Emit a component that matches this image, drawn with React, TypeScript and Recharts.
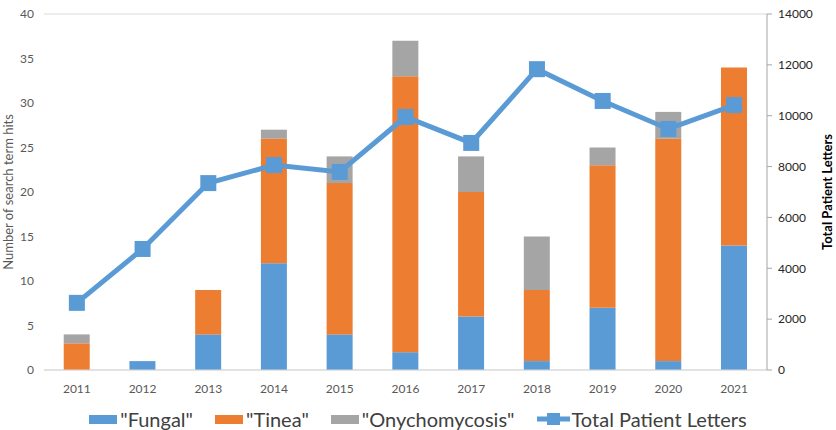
import { ComposedChart, Bar, Line, XAxis, YAxis, CartesianGrid, Legend } from 'recharts';

const years = ['2011', '2012', '2013', '2014', '2015', '2016', '2017', '2018', '2019', '2020', '2021'];
const fungal = [0, 1, 4, 12, 4, 2, 6, 1, 7, 1, 14];
const tinea = [3, 0, 5, 14, 17, 31, 14, 8, 16, 25, 20];
const onychomycosis = [1, 0, 0, 1, 3, 4, 4, 6, 2, 3, 0];
const patientLetters = [2640, 4760, 7350, 8060, 7790, 9950, 8930, 11830, 10580, 9480, 10420];
const leftTicks = [0, 5, 10, 15, 20, 25, 30, 35, 40];
const rightTicks = [0, 2000, 4000, 6000, 8000, 10000, 12000, 14000];

const data = years.map((year, i) => ({
  year,
  fungal: fungal[i],
  tinea: tinea[i],
  onychomycosis: onychomycosis[i],
  letters: patientLetters[i],
}));

const BLUE = '#5B9BD5';
const ORANGE = '#ED7D31';
const GREY = '#A5A5A5';
const FONT = 'Lato, "Open Sans", sans-serif';

const SquareDot = (props: any) => {
  const { cx, cy } = props;
  if (cx == null || cy == null) return null;
  return <rect x={cx - 8} y={cy - 8} width={16} height={16} fill={BLUE} />;
};

const legendItems = [
  { label: '"Fungal"', color: BLUE, kind: 'bar' },
  { label: '"Tinea"', color: ORANGE, kind: 'bar' },
  { label: '"Onychomycosis"', color: GREY, kind: 'bar' },
  { label: 'Total Patient Letters', color: BLUE, kind: 'line' },
];

const LegendContent = () => (
  <div style={{ display: 'flex', justifyContent: 'center', alignItems: 'center', fontFamily: FONT, fontSize: 20, color: '#404040', paddingTop: 7 }}>
    {legendItems.map((it, i) => (
      <div key={it.label} style={{ display: 'flex', alignItems: 'center', marginRight: i < legendItems.length - 1 ? 22 : 0 }}>
        {it.kind === 'bar' ? (
          <div style={{ width: 28, height: 9, background: it.color, marginRight: 3 }} />
        ) : (
          <svg width={33} height={14} style={{ marginRight: 2 }}>
            <line x1={0} y1={7} x2={33} y2={7} stroke={it.color} strokeWidth={5} />
            <rect x={10} y={1} width={13} height={12} fill={it.color} />
          </svg>
        )}
        <span>{it.label}</span>
      </div>
    ))}
  </div>
);

export default function App() {
  return (
    <div style={{ position: 'absolute', left: 0, top: 0, background: '#fff' }}>
      <ComposedChart
        width={836}
        height={430}
        data={data}
        margin={{ top: 14, right: 0, left: 0, bottom: 0 }}
        barCategoryGap="30%"
      >
        <CartesianGrid vertical={false} stroke="#D9D9D9" />
        <XAxis
          dataKey="year"
          height={30}
          tickLine={false}
          axisLine={{ stroke: '#D9D9D9' }}
          tick={{ fill: '#595959', fontSize: 12, fontFamily: FONT }}
          tickMargin={8}
        />
        <YAxis
          yAxisId="left"
          width={44}
          domain={[0, 40]}
          ticks={leftTicks}
          axisLine={false}
          tickLine={false}
          tick={{ fill: '#595959', fontSize: 12, fontFamily: FONT }}
          tickMargin={4}
          label={{
            value: 'Number of search term hits',
            angle: -90,
            position: 'insideLeft',
            offset: 0,
            dx: 8,
            style: { fill: '#595959', fontSize: 13, fontFamily: FONT, textAnchor: 'middle' },
          }}
        />
        <YAxis
          yAxisId="right"
          orientation="right"
          width={69}
          domain={[0, 14000]}
          ticks={rightTicks}
          axisLine={{ stroke: '#A6A6A6' }}
          tickLine={{ stroke: '#A6A6A6' }}
          tickSize={5}
          tick={{ fill: '#262626', fontSize: 12, fontFamily: FONT }}
          tickMargin={6}
          label={{
            value: 'Total Patient Letters',
            angle: -90,
            position: 'insideRight',
            offset: 0,
            dx: -9,
            style: { fill: '#000', fontSize: 13, fontWeight: 'bold', fontFamily: FONT, textAnchor: 'middle' },
          }}
        />
        <Legend verticalAlign="bottom" height={30} content={LegendContent} />
        <Bar yAxisId="left" dataKey="fungal" stackId="a" fill={BLUE} isAnimationActive={false} />
        <Bar yAxisId="left" dataKey="tinea" stackId="a" fill={ORANGE} isAnimationActive={false} />
        <Bar yAxisId="left" dataKey="onychomycosis" stackId="a" fill={GREY} isAnimationActive={false} />
        <Line
          yAxisId="right"
          dataKey="letters"
          stroke={BLUE}
          strokeWidth={5}
          dot={<SquareDot />}
          activeDot={false}
          type="linear"
          isAnimationActive={false}
        />
      </ComposedChart>
    </div>
  );
}
